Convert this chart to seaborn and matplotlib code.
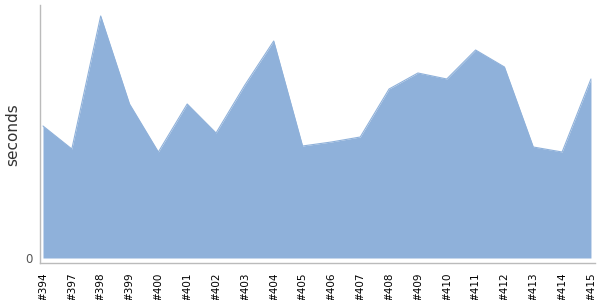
import matplotlib
matplotlib.use("Agg")
import matplotlib.pyplot as plt
import seaborn as sns
import pandas as pd

builds = ["#394", "#397", "#398", "#399", "#400", "#401", "#402", "#403", "#404", "#405",
          "#406", "#407", "#408", "#409", "#410", "#411", "#412", "#413", "#414", "#415"]
seconds = [132, 109, 242, 154, 106, 154, 125, 173, 217, 112,
           116, 121, 169, 185, 179, 208, 191, 111, 106, 179]

df = pd.DataFrame({"build": builds, "seconds": seconds})
df["pos"] = range(len(df))

sns.set_style("white")
plt.rcParams["font.family"] = ["DejaVu Sans"]

fig = plt.figure(figsize=(6, 3), dpi=100)
ax = fig.add_axes([40 / 600, 37 / 300, 555 / 600, 258 / 300])

sns.lineplot(data=df, x="pos", y="seconds", ax=ax, color="#8fb1da", linewidth=0.8)
ax.fill_between(df["pos"], df["seconds"], 0, color="#8fb1da", linewidth=0)

ax.set_xlim(-0.104, len(builds) - 1 + 0.14)
ax.set_ylim(-5, 253)
ax.set_xticks(df["pos"])
ax.set_xticklabels(builds, rotation=90, fontsize=7.5, color="black")
ax.set_yticks([0])
ax.set_yticklabels(["0"], fontsize=8.5, color="#555555")
ax.tick_params(axis="y", length=0, pad=5)
ax.tick_params(axis="x", length=3, color="#bbbbbb", width=1, pad=4)
ax.set_xlabel("")
ax.set_ylabel("seconds", fontsize=11, color="#333333")
ax.yaxis.set_label_coords(-20 / 555, (258 - 130) / 258)

for s in ["top", "right"]:
    ax.spines[s].set_visible(False)
for s in ["left", "bottom"]:
    ax.spines[s].set_color("#bbbbbb")
    ax.spines[s].set_linewidth(1)

fig.savefig("out.png", dpi=100)
